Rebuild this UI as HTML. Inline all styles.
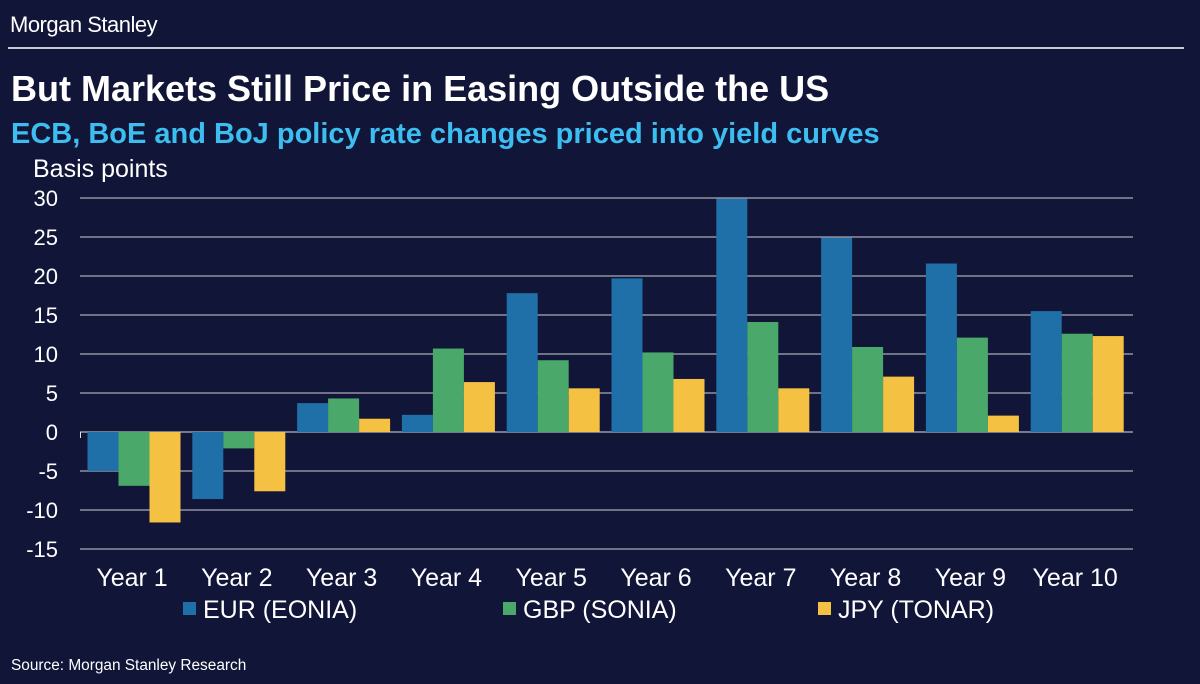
<!DOCTYPE html>
<html><head><meta charset="utf-8"><style>
body{margin:0;background:#111538;width:1200px;height:684px;overflow:hidden;font-family:"Liberation Sans",Arial,sans-serif;color:#fff}
.t{position:absolute;white-space:nowrap}
</style></head><body>
<div class="t" style="left:10px;top:12px;font-size:22px;letter-spacing:-0.5px">Morgan Stanley</div>
<div style="position:absolute;left:8px;top:47px;width:1176px;height:2px;background:#c8c8d0"></div>
<div class="t" style="left:11px;top:68px;font-size:36px;font-weight:bold">But Markets Still Price in Easing Outside the US</div>
<div class="t" style="left:11px;top:118px;font-size:29px;font-weight:bold;color:#3cbef0">ECB, BoE and BoJ policy rate changes priced into yield curves</div>
<div class="t" style="left:11px;top:657px;font-size:15.4px">Source: Morgan Stanley Research</div>
<svg id="chart" width="1200" height="684" style="position:absolute;left:0;top:0"></svg>
<script>
const categories=["Year 1","Year 2","Year 3","Year 4","Year 5","Year 6","Year 7","Year 8","Year 9","Year 10"];
const eur=[-5.0,-8.6,3.7,2.2,17.8,19.7,29.9,24.9,21.6,15.5];
const gbp=[-6.9,-2.1,4.3,10.7,9.2,10.2,14.1,10.9,12.1,12.6];
const jpy=[-11.6,-7.6,1.7,6.4,5.6,6.8,5.6,7.1,2.1,12.3];
const ticks=[30,25,20,15,10,5,0,-5,-10,-15];
const seriesNames=["EUR (EONIA)","GBP (SONIA)","JPY (TONAR)"];
const colors=["#1f6fa8","#4aa96a","#f4c143"];
const NS="http://www.w3.org/2000/svg";
const svg=document.getElementById('chart');
const y=v=>432-v*7.8;
const cx=i=>134+i*104.8;
function mk(tag,attrs){const e=document.createElementNS(NS,tag);for(const k in attrs)e.setAttribute(k,attrs[k]);svg.appendChild(e);return e;}
ticks.forEach(t=>{
  const l=mk('line',{x1:80,x2:1133,y1:y(t),y2:y(t),stroke:t===0?'#e0e0e0':'#d0d0d8','stroke-width':1});
  
  
  const tx=mk('text',{x:58,y:y(t)+8,'text-anchor':'end','font-size':22,fill:'#fff'});
  tx.textContent=t;
  
  
});
const ztick=mk('line',{x1:80.5,x2:80.5,y1:432,y2:438,stroke:'#e0e0e0','stroke-width':1});


const yt=mk('text',{x:33,y:177,'font-size':25,fill:'#fff'});yt.textContent='Basis points';


const all=[eur,gbp,jpy];const bw=31;
categories.forEach((c,i)=>{
  all.forEach((s,k)=>{
    const v=s[i];const x=cx(i)-46.5+k*bw;
    const r=mk('rect',{x:x,y:Math.min(y(v),y(0)),width:bw,height:Math.abs(y(v)-y(0)),fill:colors[k]});
    
    
  });
  const tx=mk('text',{x:cx(i)-2,y:586,'text-anchor':'middle','font-size':25,fill:'#fff'});
  tx.textContent=c;
  
  
});
const lx=[183,503,818];
seriesNames.forEach((n,k)=>{
  const r=mk('rect',{x:lx[k],y:602,width:13,height:13,fill:colors[k]});
  
  
  const t=mk('text',{x:lx[k]+20,y:618,'font-size':25,fill:'#fff'});t.textContent=n;
  
  
});
</script>
</body></html>
